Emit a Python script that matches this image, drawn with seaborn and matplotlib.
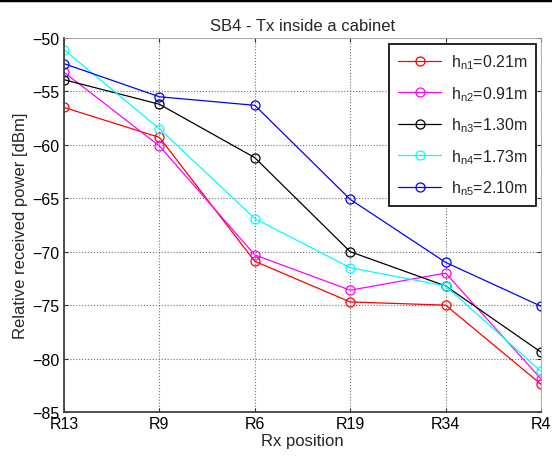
import matplotlib
matplotlib.use("Agg")
import matplotlib.pyplot as plt
import seaborn as sns
import pandas as pd
from matplotlib.lines import Line2D

positions = ["R13", "R9", "R6", "R19", "R34", "R4"]
labels = ["h$_{\\mathrm{n1}}$=0.21m", "h$_{\\mathrm{n2}}$=0.91m", "h$_{\\mathrm{n3}}$=1.30m",
          "h$_{\\mathrm{n4}}$=1.73m", "h$_{\\mathrm{n5}}$=2.10m"]
hn1 = [-56.5, -59.3, -70.9, -74.7, -75.0, -82.4]
hn2 = [-53.2, -60.1, -70.3, -73.6, -72.0, -81.9]
hn3 = [-53.9, -56.2, -61.2, -70.0, -73.2, -79.4]
hn4 = [-51.1, -58.5, -66.9, -71.5, -73.2, -81.2]
hn5 = [-52.4, -55.5, -56.3, -65.1, -71.0, -75.1]
colors = ["#ff0000", "#ff00ff", "#000000", "#00ffff", "#0000ff"]

sns.set_style("white")
plt.rcParams["font.family"] = ["Liberation Sans", "DejaVu Sans"]
plt.rcParams["mathtext.fontset"] = "custom"
plt.rcParams["mathtext.rm"] = "Liberation Sans"

fig = plt.figure(figsize=(5.52, 4.6), dpi=100)
ax = fig.add_axes([64/552, 1 - 413/460, (541-64)/552, (413-39)/460])

xs = list(range(len(positions)))
for vals, lab, col in zip([hn1, hn2, hn3, hn4, hn5], labels, colors):
    df = pd.DataFrame({"pos": xs, "val": vals})
    sns.lineplot(data=df, x="pos", y="val", ax=ax, color=col, lw=0.9,
                 marker="o", markersize=6.5, markerfacecolor="none",
                 markeredgecolor=col, markeredgewidth=0.9, label=lab)

ax.set_xlim(0, 5)
ax.set_ylim(-85, -50)
ax.set_xticks(xs)
ax.set_xticklabels(positions)
ax.set_yticks(range(-85, -49, 5))
ax.grid(True, color="#707070", linestyle=":", linewidth=0.8)
ax.tick_params(direction="in", length=3, labelsize=11.5, colors="#303030",
               labelcolor="black", left=True, bottom=True, right=True, top=True, pad=3)
for s in ["left", "bottom"]:
    ax.spines[s].set_color("#404040")
    ax.spines[s].set_linewidth(1.3)
for s in ["top", "right"]:
    ax.spines[s].set_color("#a0a0a0")
    ax.spines[s].set_linewidth(0.6)

ax.set_title("SB4 - Tx inside a cabinet", fontsize=12, pad=6)
ax.set_xlabel("Rx position", fontsize=12, labelpad=1)
ax.set_ylabel("Relative received power [dBm]", fontsize=12, labelpad=3)

leg = ax.legend(loc="upper right", bbox_to_anchor=(0.99, 0.985), borderaxespad=0,
                fontsize=11.5, frameon=True, fancybox=False, framealpha=1,
                edgecolor="black", handlelength=2.7, labelspacing=0.8,
                borderpad=0.55, handletextpad=0.6)
leg.get_frame().set_linewidth(1.2)

fig.add_artist(Line2D([0, 1], [0.997, 0.997], transform=fig.transFigure,
                      color="black", lw=2.5))

fig.savefig("out.png", dpi=100)
